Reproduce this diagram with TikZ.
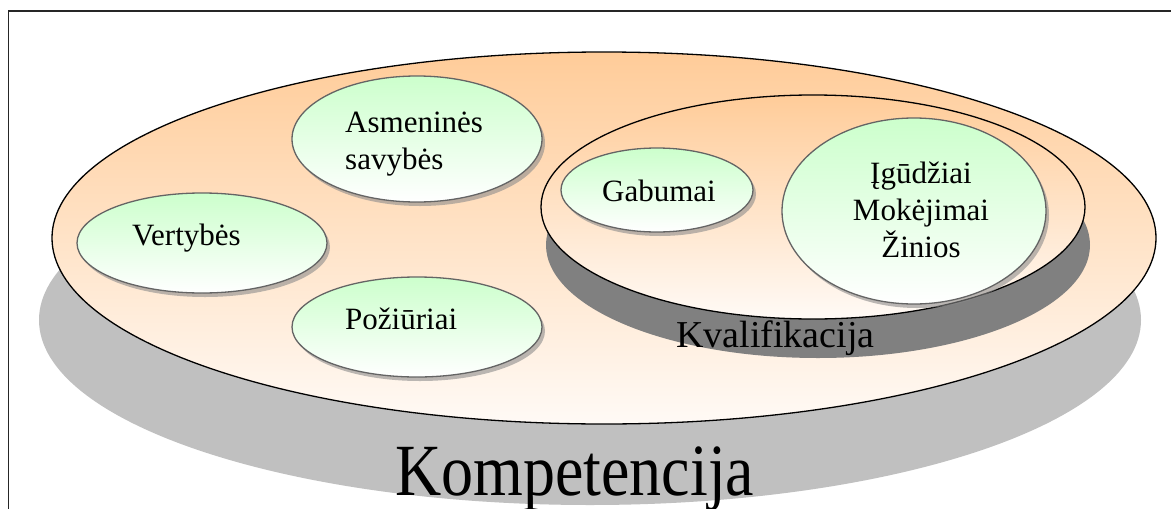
\documentclass[tikz,border=0pt]{standalone}
\usepackage{fontspec}
\setmainfont{Liberation Serif}
\definecolor{orangetop}{RGB}{255,204,153}
\definecolor{orangebot}{RGB}{255,250,246}
\definecolor{greentop}{RGB}{204,255,204}
\definecolor{shadowgray}{RGB}{192,192,192}
\definecolor{darkshadow}{RGB}{128,128,128}
\definecolor{rimgray}{RGB}{100,100,100}
\begin{document}
\begin{tikzpicture}[x=1pt,y=-1pt,
  bigell/.style={draw=black,line width=1.3pt,top color=orangetop,bottom color=orangebot},
  smallell/.style={draw=rimgray,line width=1.3pt,top color=greentop,bottom color=white},
  smallshadow/.style={fill=black!45,opacity=0.6},
  lbl/.style={inner sep=0pt,anchor=base west,font=\fontsize{31}{37}\selectfont},
  clbl/.style={inner sep=0pt,anchor=base,font=\fontsize{31}{37}\selectfont}]
\useasboundingbox (0,0) rectangle (1171,509);
\fill[white] (0,0) rectangle (1171,509);
% frame
\draw[line width=1.8pt,black!85] (8.5,509) -- (8.5,11) -- (1171,11);
% Kompetencija
\fill[shadowgray] (590,320) ellipse [x radius=551pt, y radius=185pt];
\path[bigell] (604,238) ellipse [x radius=552pt, y radius=186pt];
% Kvalifikacija
\fill[darkshadow] (818,245) ellipse [x radius=272pt, y radius=113pt];
\path[bigell] (813,207) ellipse [x radius=272pt, y radius=112pt];
% green ellipses: shadows
\fill[smallshadow] (420,143) ellipse [x radius=125pt, y radius=63pt];
\fill[smallshadow] (205,247) ellipse [x radius=125pt, y radius=50pt];
\fill[smallshadow] (420,331) ellipse [x radius=125pt, y radius=50pt];
\fill[smallshadow] (660,194) ellipse [x radius=96pt, y radius=42pt];
\fill[smallshadow] (917,215) ellipse [x radius=132pt, y radius=93pt];
% green ellipses
\path[smallell] (417,139) ellipse [x radius=125pt, y radius=63pt];
\path[smallell] (202,243) ellipse [x radius=125pt, y radius=50pt];
\path[smallell] (417,327) ellipse [x radius=125pt, y radius=50pt];
\path[smallell] (657,190) ellipse [x radius=96pt, y radius=42pt];
\path[smallell] (914,211) ellipse [x radius=132pt, y radius=93pt];
% texts
\node[lbl] (asm) at (345,132) {Asmeninės};
\node[lbl] (sav) at (345,169) {savybės};
\node[lbl] (ver) at (132,245) {Vertybės};
\node[lbl] (poz) at (345,329) {Požiūriai};
\node[lbl] (gab) at (602,201) {Gabumai};
\node[clbl] (igu) at (921,183) {Įgūdžiai};
\node[clbl] (mok) at (921,220) {Mokėjimai};
\node[clbl] (zin) at (921,257) {Žinios};
\node[inner sep=0pt,anchor=base west,font=\fontsize{38}{44}\selectfont] (kva) at (676,347) {Kvalifikacija};
\node[inner sep=0pt,anchor=base west,font=\fontsize{64}{70}\selectfont] (kom) at (395,495) {\scalebox{1}[1.15]{Kompetencija}};
\end{tikzpicture}
\end{document}
